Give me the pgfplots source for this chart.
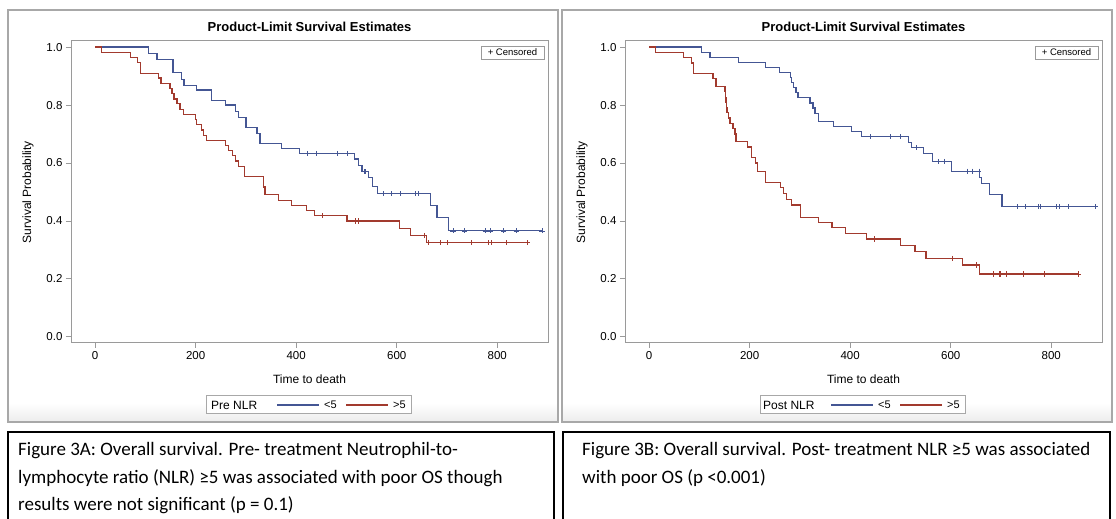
\documentclass[border=0pt]{standalone}
\usepackage{fontspec}
\setmainfont{Liberation Sans}
\newfontfamily\capfont{Carlito}
\usepackage{pgfplots}
\usepackage{pgfplotstable}
\pgfplotsset{compat=1.18}
\definecolor{sasblue}{HTML}{445694}
\definecolor{sasred}{HTML}{A23A2E}
\definecolor{framegray}{HTML}{9A9A9A}
\definecolor{panelgray}{HTML}{A8A8A8}

% ---------- Pre NLR ----------
\pgfplotstableread{
t s
0 1.000
106 0.978
123 0.956
155 0.911
172 0.889
177 0.867
201 0.852
232 0.817
260 0.800
280 0.778
286 0.756
300 0.723
322 0.701
328 0.667
371 0.650
406 0.633
516 0.614
524 0.592
531 0.570
544 0.550
552 0.520
562 0.494
667 0.453
680 0.411
703 0.366
889 0.366
}\preblue
\pgfplotstableread{
t s
423 0.633
441 0.633
482 0.633
501 0.633
535 0.570
538 0.570
574 0.494
590 0.494
607 0.494
637 0.494
643 0.494
712 0.366
735 0.366
776 0.366
786 0.366
813 0.366
838 0.366
889 0.366
}\preblueC
\pgfplotstableread{
t s
0 1.000
13 0.982
70 0.964
85 0.946
91 0.910
126 0.893
131 0.875
149 0.857
153 0.839
157 0.821
163 0.804
169 0.786
176 0.768
199 0.750
202 0.732
212 0.714
216 0.696
221 0.679
260 0.661
265 0.643
273 0.625
280 0.607
286 0.589
297 0.553
335 0.517
338 0.490
365 0.472
391 0.454
421 0.436
436 0.418
501 0.400
605 0.375
627 0.350
660 0.325
859 0.325
}\prered
\pgfplotstableread{
t s
451 0.418
517 0.400
523 0.400
655 0.350
663 0.325
687 0.325
700 0.325
749 0.325
782 0.325
789 0.325
819 0.325
859 0.325
}\preredC

% ---------- Post NLR ----------
\pgfplotstableread{
t s
0 1.000
104 0.982
121 0.965
178 0.947
231 0.930
259 0.912
281 0.895
283 0.877
287 0.860
292 0.842
296 0.825
320 0.807
326 0.790
330 0.772
337 0.742
367 0.725
403 0.708
422 0.691
516 0.672
522 0.653
546 0.633
564 0.605
602 0.572
658 0.550
662 0.528
677 0.490
702 0.449
888 0.449
}\postblue
\pgfplotstableread{
t s
440 0.691
480 0.691
499 0.691
531 0.653
575 0.605
588 0.605
632 0.572
642 0.572
656 0.572
732 0.449
748 0.449
775 0.449
778 0.449
811 0.449
817 0.449
834 0.449
888 0.449
}\postblueC
\pgfplotstableread{
t s
0 1.000
13 0.982
68 0.964
85 0.945
88 0.909
127 0.891
133 0.864
151 0.846
152 0.827
153 0.809
154 0.791
155 0.773
158 0.755
161 0.737
167 0.719
171 0.700
173 0.673
196 0.655
204 0.618
211 0.600
216 0.570
231 0.533
261 0.515
267 0.495
274 0.475
284 0.455
301 0.412
337 0.396
364 0.377
390 0.357
433 0.338
500 0.315
529 0.294
551 0.271
624 0.248
657 0.217
854 0.217
}\postred
\pgfplotstableread{
t s
448 0.338
604 0.271
650 0.248
684 0.217
697 0.217
699 0.217
710 0.217
745 0.217
786 0.217
854 0.217
}\postredC

\pgfplotsset{
  kmaxis/.style={
    scale only axis, width=477pt, height=302pt, anchor=south west,
    xmin=-48, xmax=901, ymin=-0.021, ymax=1.021,
    xtick={0,200,400,600,800}, ytick={0,0.2,0.4,0.6,0.8,1.0},
    yticklabel style={/pgf/number format/fixed, /pgf/number format/precision=1,
      /pgf/number format/fixed zerofill},
    /pgf/number format/assume math mode=true,
    axis line style={framegray, line width=1pt},
    tick style={framegray, line width=0.9pt},
    major tick length=5pt, tick align=outside,
    xtick pos=bottom, ytick pos=left,
    tick label style={font=\fontsize{11.5}{13}\selectfont, text=black},
    clip=false,
  },
  kmline/.style={const plot, line width=1.2pt, no marks},
  kmcens/.style={only marks, mark=+, mark size=2.6pt, mark options={line width=0.6pt}},
}

\newcommand{\panel}[3]{% #1 xshift, #2 legend label, #3 label x
  \begin{scope}[x=1pt, y=1pt, xshift=#1pt]
    \shade[bottom color=gray!14, top color=white] (9,98) rectangle (557,116);
    \draw[panelgray, line width=1.6pt] (8,97) rectangle (558,509);
    \node[font=\bfseries\fontsize{13}{15}\selectfont] at (309.5,492) {Product-Limit Survival Estimates};
    \node[font=\fontsize{12}{14}\selectfont, rotate=90] at (28,327) {Survival Probability};
    \node[font=\fontsize{12}{14}\selectfont] at (309.5,140) {Time to death};
    \draw[framegray, line width=0.8pt, fill=white] (481,460) rectangle (544,473);
    \node[font=\fontsize{9.5}{11}\selectfont, anchor=center] at (512.5,466.5) {+ Censored};
    \draw[panelgray, line width=1pt, fill=white] (206,105) rectangle (411,123);
    \node[font=\fontsize{12}{14}\selectfont, anchor=west, inner sep=0] at (#3,114) {#2};
    \draw[sasblue, line width=1.1pt] (277,114) -- (319,114);
    \node[font=\fontsize{11}{13}\selectfont, anchor=west, inner sep=0] at (324,114) {<5};
    \draw[sasred, line width=1.1pt] (346,114) -- (388,114);
    \node[font=\fontsize{11}{13}\selectfont, anchor=west, inner sep=0] at (393,114) {>5};
  \end{scope}
}

\begin{document}
\begin{tikzpicture}
\useasboundingbox (0pt,0pt) rectangle (1116pt,519pt);
\fill[white] (0pt,0pt) rectangle (1116pt,519pt);

\panel{0}{Pre NLR}{211}
\panel{554}{Post NLR}{209}

\begin{axis}[kmaxis, at={(71pt,176pt)}]
  \addplot[kmline, sasblue] table {\preblue};
  \addplot[kmcens, sasblue] table {\preblueC};
  \addplot[kmline, sasred] table {\prered};
  \addplot[kmcens, sasred] table {\preredC};
\end{axis}

\begin{axis}[kmaxis, at={(625pt,176pt)}]
  \addplot[kmline, sasblue] table {\postblue};
  \addplot[kmcens, sasblue] table {\postblueC};
  \addplot[kmline, sasred] table {\postred};
  \addplot[kmcens, sasred] table {\postredC};
\end{axis}

% caption boxes
\begin{scope}[x=1pt, y=1pt]
\draw[black, line width=1.4pt] (8,-5) -- (8,87) -- (554,87) -- (554,-5);
\draw[black, line width=1.4pt] (563,-5) -- (563,87) -- (1110,87) -- (1110,-5);
\begin{scope}[every node/.style={anchor=base west, inner sep=0, font=\capfont\fontsize{19}{23}\selectfont}]
  \node at (18,63) {Figure 3A: Overall survival. Pre- treatment Neutrophil-to-};
  \node at (18,35.5) {lymphocyte ratio (NLR) ≥5 was associated with poor OS though};
  \node at (18,8) {results were not significant (p = 0.1)};
  \node at (582,63) {Figure 3B: Overall survival. Post- treatment NLR ≥5 was associated};
  \node at (582,35.5) {with poor OS (p <0.001)};
\end{scope}
\end{scope}
\end{tikzpicture}
\end{document}
